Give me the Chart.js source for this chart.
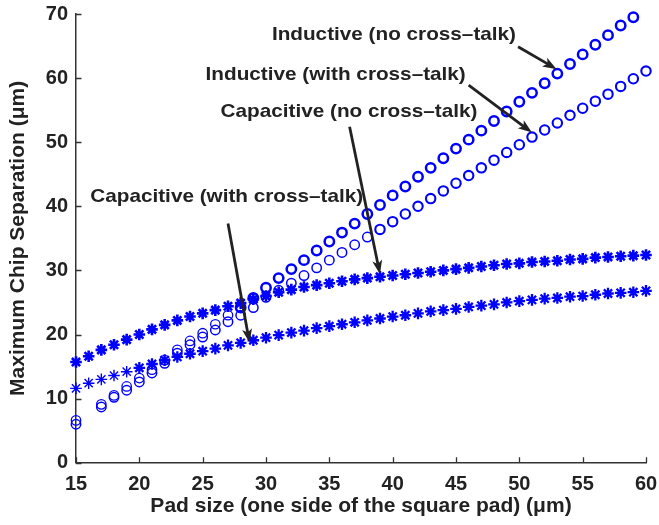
<!DOCTYPE html>
<html>
<head>
<meta charset="utf-8">
<script src="https://cdn.jsdelivr.net/npm/chart.js@4"></script>
<style>
  html, body { margin: 0; padding: 0; background: #ffffff; }
  #c { display: block; }
</style>
</head>
<body>
<canvas id="c" width="659" height="525"></canvas>
<script>
// Pad size (one side of the square pad), µm
const padSize = [15,16,17,18,19,20,21,22,23,24,25,26,27,28,29,30,31,32,33,34,35,36,37,38,39,40,
                 41,42,43,44,45,46,47,48,49,50,51,52,53,54,55,56,57,58,59,60];

// Maximum chip separation, µm (null = no point shown at that pad size)
const inductiveNoXtalk = [6.6,null,9.1,10.5,11.9,13.2,14.5,16.0,17.6,19.0,20.2,21.6,23.0,24.2,25.7,27.3,
                          28.8,30.2,31.6,33.1,34.5,35.9,37.3,38.8,40.2,41.7,43.1,44.6,46.0,47.5,49.0,
                          50.4,51.8,53.3,54.8,56.3,57.7,59.2,60.7,62.2,63.7,65.2,66.7,68.2,69.5,null];
const inductiveXtalk   = [6.0,null,8.7,10.2,11.3,12.6,14.0,15.5,17.1,18.4,19.6,20.7,22.0,23.0,24.2,25.8,
                          26.9,28.0,29.2,30.4,31.6,32.8,34.0,35.2,36.4,37.6,38.8,40.0,41.2,42.4,43.6,
                          44.8,46.0,47.2,48.4,49.6,50.8,51.9,53.0,54.2,55.3,56.4,57.5,58.7,59.9,61.1];
const capacitiveNoXtalk = [15.7,16.6,17.6,18.4,19.2,20.0,20.8,21.5,22.2,22.8,23.3,23.8,24.4,24.9,25.5,26.0,
                           26.6,27.0,27.4,27.7,28.0,28.3,28.6,28.8,29.0,29.2,29.4,29.6,29.8,30.0,30.2,
                           30.4,30.6,30.8,31.0,31.1,31.3,31.4,31.5,31.7,31.8,32.0,32.1,32.2,32.3,32.4];
const capacitiveXtalk   = [11.6,12.4,13.0,13.6,14.2,14.8,15.4,16.0,16.5,17.0,17.4,17.8,18.3,18.7,19.1,19.5,
                           19.9,20.3,20.6,21.0,21.3,21.6,21.9,22.2,22.5,22.8,23.0,23.3,23.6,23.8,24.0,
                           24.3,24.5,24.7,25.0,25.2,25.4,25.6,25.7,25.9,26.0,26.2,26.4,26.5,26.6,26.8];

const xTicks = [15,20,25,30,35,40,45,50,55,60];
const yTicks = [0,10,20,30,40,50,60,70];

const xTitle = 'Pad size (one side of the square pad) (\u03bcm)';
const yTitle = 'Maximum Chip Separation (\u03bcm)';

// Callout labels: text centre and arrow in data units
const callouts = [
  { text: 'Inductive (no cross\u2013talk)',    at: [40.1, 66.7],  from: [49.9, 64.9], to: [52.95, 61.4] },
  { text: 'Inductive (with cross\u2013talk)',  at: [35.5, 60.5],  from: [46.0, 58.9], to: [51.0, 51.5] },
  { text: 'Capacitive (no cross\u2013talk)',   at: [36.55, 54.7], from: [36.6, 52.4], to: [39.0, 29.4] },
  { text: 'Capacitive (with cross\u2013talk)', at: [26.9, 41.45], from: [27.0, 37.3], to: [28.7, 18.7] }
];

const BLUE = '#0000ff';
const INK = '#222222';
const FONT = "'Liberation Sans', Arial, Helvetica, sans-serif";

function points(ys) {
  const out = [];
  padSize.forEach((x, i) => { if (ys[i] !== null) out.push({ x: x, y: ys[i] }); });
  return out;
}

// marker stroke: finer on the small-pad end, heavier further right
function strokeBy(limit, thin, thick) {
  return ctx => (ctx.raw && ctx.raw.x <= limit) ? thin : thick;
}

// Tick marks drawn on the inside of the axes
const innerTicks = {
  id: 'innerTicks',
  afterDatasetsDraw(chart) {
    const { ctx, chartArea: a, scales: { x, y } } = chart;
    ctx.save();
    ctx.strokeStyle = '#333333';
    ctx.lineWidth = 1.3;
    ctx.beginPath();
    xTicks.forEach(v => {
      const px = Math.round(x.getPixelForValue(v)) + 0.5;
      ctx.moveTo(px, a.bottom); ctx.lineTo(px, a.bottom - 5.5);
    });
    yTicks.forEach(v => {
      const py = Math.round(y.getPixelForValue(v)) + 0.5;
      ctx.moveTo(a.left, py); ctx.lineTo(a.left + 5.5, py);
    });
    ctx.stroke();
    ctx.restore();
  }
};

// Text callouts with arrows pointing at the curves
const calloutPlugin = {
  id: 'callouts',
  afterDatasetsDraw(chart) {
    const { ctx, scales: { x, y } } = chart;
    ctx.save();
    ctx.font = 'bold 18.5px ' + FONT;
    ctx.fillStyle = INK;
    ctx.textAlign = 'center';
    ctx.textBaseline = 'middle';
    callouts.forEach(c => {
      ctx.save();
      ctx.translate(x.getPixelForValue(c.at[0]), y.getPixelForValue(c.at[1]));
      ctx.scale(1.12, 1);
      ctx.fillText(c.text, 0, 0);
      ctx.restore();
      const x0 = x.getPixelForValue(c.from[0]), y0 = y.getPixelForValue(c.from[1]);
      const x1 = x.getPixelForValue(c.to[0]),   y1 = y.getPixelForValue(c.to[1]);
      const ang = Math.atan2(y1 - y0, x1 - x0);
      const len = 14, half = 5;
      const bx = x1 - len * Math.cos(ang), by = y1 - len * Math.sin(ang);
      ctx.strokeStyle = INK;
      ctx.lineWidth = 2.8;
      ctx.beginPath();
      ctx.moveTo(x0, y0);
      ctx.lineTo(x1 - 8 * Math.cos(ang), y1 - 8 * Math.sin(ang));
      ctx.stroke();
      const nx = -Math.sin(ang), ny = Math.cos(ang);
      const nb = 0.75 * len;
      ctx.beginPath();
      ctx.moveTo(x1, y1);
      ctx.lineTo(bx + half * nx, by + half * ny);
      ctx.lineTo(x1 - nb * Math.cos(ang), y1 - nb * Math.sin(ang));
      ctx.lineTo(bx - half * nx, by - half * ny);
      ctx.closePath();
      ctx.fill();
    });
    ctx.restore();
  }
};

new Chart(document.getElementById('c'), {
  type: 'scatter',
  data: {
    datasets: [
      { label: 'Capacitive (with cross-talk)', data: points(capacitiveXtalk),
        pointStyle: 'star', pointRadius: 5.8, borderColor: BLUE, backgroundColor: BLUE,
        pointBorderWidth: strokeBy(19, 1.4, 2.3), showLine: false, clip: false },
      { label: 'Capacitive (no cross-talk)', data: points(capacitiveNoXtalk),
        pointStyle: 'star', pointRadius: 5.8, borderColor: BLUE, backgroundColor: BLUE,
        pointBorderWidth: 2.6, showLine: false, clip: false },
      { label: 'Inductive (with cross-talk)', data: points(inductiveXtalk),
        pointStyle: 'circle', pointRadius: 4.7, borderColor: BLUE, backgroundColor: 'rgba(0,0,0,0)',
        pointBorderWidth: strokeBy(38, 1.5, 2.1), showLine: false, clip: false },
      { label: 'Inductive (no cross-talk)', data: points(inductiveNoXtalk),
        pointStyle: 'circle', pointRadius: 4.7, borderColor: BLUE, backgroundColor: 'rgba(0,0,0,0)',
        pointBorderWidth: strokeBy(27, 1.3, 2.5), showLine: false, clip: false }
    ]
  },
  options: {
    responsive: false,
    animation: false,
    devicePixelRatio: 1,
    layout: { padding: { left: 0, top: 14, right: 13, bottom: 0 } },
    plugins: { legend: { display: false }, tooltip: { enabled: false } },
    scales: {
      x: {
        type: 'linear', min: 15, max: 60,
        afterBuildTicks: s => { s.ticks = xTicks.map(v => ({ value: v })); },
        afterFit: s => { s.height = 62.3; s.paddingLeft = 0; s.paddingRight = 0; },
        grid: { display: false, drawTicks: false },
        border: { display: true, color: '#333333', width: 1.5 },
        ticks: { color: INK, padding: 10, font: { family: FONT, size: 20, weight: 'bold' } },
        title: { display: true, text: xTitle, color: INK, padding: { top: 0, bottom: 6.5 },
                 font: { family: FONT, size: 21, weight: 'bold' } }
      },
      y: {
        type: 'linear', min: 0, max: 70,
        afterBuildTicks: s => { s.ticks = yTicks.map(v => ({ value: v })); },
        afterFit: s => { s.width = 76; s.paddingTop = 0; s.paddingBottom = 0; },
        grid: { display: false, drawTicks: false },
        border: { display: true, color: '#333333', width: 1.5 },
        ticks: { color: INK, padding: 8, font: { family: FONT, size: 20, weight: 'bold' } },
        title: { display: true, text: yTitle, color: INK, padding: { top: 5.5, bottom: 0 },
                 font: { family: FONT, size: 21, weight: 'bold' } }
      }
    }
  },
  plugins: [innerTicks, calloutPlugin]
});
</script>
</body>
</html>
